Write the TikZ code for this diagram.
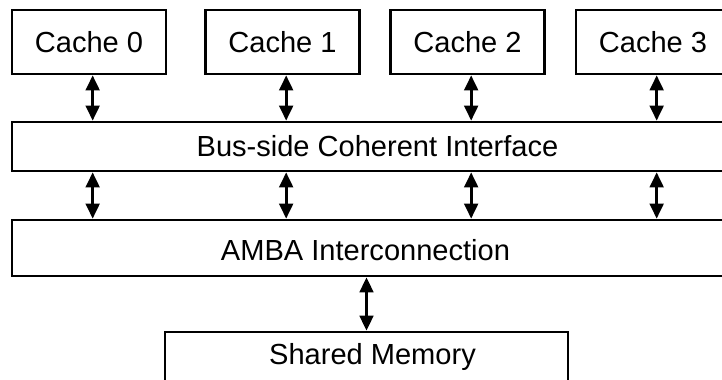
\documentclass[tikz,border=0pt]{standalone}
\usepackage{fontspec}
\setmainfont{Liberation Sans}
\usetikzlibrary{positioning, arrows.meta, calc}
\newcommand{\boxFont}{\fontsize{24.8}{30}\selectfont}

\begin{document}
\begin{tikzpicture}[
  box/.style={draw, line width=2.3pt, minimum width=4.62cm, minimum height=1.92cm, inner sep=0pt, font=\boxFont},
  bar/.style={draw, line width=2.3pt, minimum width=21.93cm, inner sep=0pt, font=\boxFont},
  txt/.style={anchor=base, inner sep=0pt, font=\boxFont},
  link/.style={line width=2.3pt, {Triangle[length=4.5mm, width=4.1mm]}-{Triangle[length=4.5mm, width=4.1mm]}}
]
  \useasboundingbox (0,0) rectangle (21.66,-11.37);
  \clip (0,0) rectangle (21.66,-11.37);
  % caches
  \node[box] (c0) at (2.67,-1.26)   {Cache 0};
  \node[box] (c1) at (8.475,-1.26)  {Cache 1};
  \node[box] (c2) at (14.025,-1.26) {Cache 2};
  \node[box] (c3) at (19.59,-1.26)  {Cache 3};
  % bus side and interconnect
  \node[bar, minimum height=1.47cm] (bus)  at (11.325,-4.395) {Bus-side Coherent Interface};
  \node[bar, minimum height=1.68cm] (amba) at (11.325,-7.44) {};
  \node[txt] (ambalabel) at (10.965,-7.8) {AMBA Interconnection};
  % memory
  \node[draw, line width=2.3pt, minimum width=12.09cm, minimum height=1.68cm] (mem) at (10.995,-10.8) {};
  \node[txt] (memlabel) at (11.175,-10.92) {Shared Memory};
  \foreach \i in {0,...,3} {
    \coordinate (t\i) at ([xshift=1.1mm]c\i.south);
    \draw[link] (t\i) -- (t\i |- bus.north);
    \draw[link] (t\i |- bus.south) -- (t\i |- amba.north);
  }
  \draw[link] (amba.south -| mem.north) -- (mem.north);
\end{tikzpicture}
\end{document}
